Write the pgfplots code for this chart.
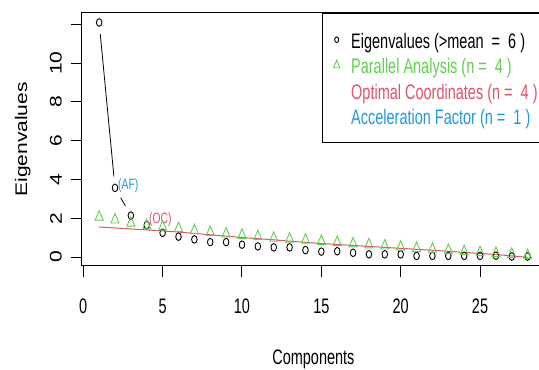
\documentclass[border=0pt]{standalone}
\usepackage{pgfplots}
\pgfplotsset{compat=1.18}
\usepackage{fontspec}
\setmainfont{Liberation Sans}[FakeStretch=0.69]
\newfontfamily\rotfont{Liberation Sans}
\definecolor{rred}{HTML}{DF536B}
\definecolor{rgreen}{HTML}{61D04F}
\definecolor{rblue}{HTML}{2297E6}
\newcommand\bigf{\fontsize{21pt}{25pt}\selectfont}
\newcommand\smallf{\fontsize{15pt}{18pt}\selectfont}
\pgfplotsset{
  eiglegend/.style={legend image code/.code={\path (0pt,0pt) (27.7pt,0pt); \draw[##1, mark size=2.8pt] plot coordinates {(13.7pt,0pt)};}},
  palegend/.style={legend image code/.code={\path (0pt,0pt) (27.7pt,0pt); \draw[##1, mark size=5pt] plot coordinates {(13.7pt,0pt)};}},
}
\pgfplotstableread{
x eig pa oc
1 12.10 2.07 1.55
2 3.57 1.92 1.50
3 2.14 1.76 1.45
4 1.65 1.62 1.40
5 1.25 1.55 1.35
6 1.05 1.48 1.29
7 0.91 1.37 1.22
8 0.77 1.28 1.15
9 0.77 1.20 1.08
10 0.64 1.13 1.01
11 0.55 1.06 0.95
12 0.50 0.98 0.89
13 0.50 0.93 0.82
14 0.36 0.88 0.76
15 0.28 0.81 0.70
16 0.30 0.76 0.65
17 0.22 0.69 0.60
18 0.14 0.64 0.55
19 0.14 0.58 0.50
20 0.14 0.52 0.45
21 0.06 0.46 0.40
22 0.06 0.41 0.35
23 0.06 0.35 0.30
24 0.06 0.29 0.24
25 0.06 0.24 0.19
26 0.07 0.20 0.13
27 0.03 0.15 0.06
28 0.03 0.09 -0.01
}\datatab
\begin{document}
\begin{tikzpicture}
\begin{axis}[
  name=ax,
  scale only axis,
  width=462.8pt, height=252.8pt,
  xmin=-0.08, xmax=29.08, ymin=-0.45, ymax=12.59,
  axis line style={line width=1pt},
  every tick/.style={line width=1pt, black},
  tick align=outside,
  major tick length=11pt,
  xtick={0,5,10,15,20,25},
  ytick={0,2,4,6,8,10,12},
  yticklabels={0,2,4,6,8,10,{}},
  xtick pos=bottom, ytick pos=left,
  /pgf/number format/assume math mode=true,
  xticklabel style={font=\bigf, anchor=base, inner sep=0pt},
  yticklabel style={font=\rotfont\bigf, rotate=90, anchor=south, inner sep=0pt, yscale=0.8},
  xticklabel shift=36.5pt,
  yticklabel shift=9pt,
  xlabel={Components},
  xlabel style={font=\bigf, at={(axis description cs:0.5,-0.3896)}, anchor=base, inner sep=0pt},
  ylabel={Eigenvalues},
  ylabel style={font=\rotfont\bigf, at={(axis description cs:-0.1188,0.5)}, anchor=base, inner sep=0pt, yscale=0.8},
  legend style={at={(rel axis cs:1,1)}, anchor=north east, draw=black, line width=1pt, fill=white,
    inner xsep=0pt, inner ysep=13.5pt, row sep=0pt, column sep=0pt, font=\bigf,
    nodes={inner sep=0pt, text height=21.5pt, text depth=4pt}},
  legend cell align=left,
]
\addplot[only marks, mark=o, black, mark size=3.8pt, mark options={xscale=0.73, line width=0.9pt}, eiglegend]
  table[x=x, y=eig] {\datatab};
\addplot[only marks, mark=triangle, rgreen, mark size=6.3pt, mark options={xscale=0.73, line width=0.9pt}, palegend]
  table[x=x, y=pa] {\datatab};
\addplot[rred, line width=1pt, no marks, forget plot] table[x=x, y=oc] {\datatab};
\addplot[black, line width=0.8pt, no marks, shorten <=11.5pt, shorten >=11.5pt, forget plot] coordinates {(1,12.10) (2,3.57)};
\addplot[black, line width=0.8pt, no marks, shorten <=11.5pt, shorten >=11pt, forget plot] coordinates {(2,3.57) (3,2.14)};
\addlegendentry{\makebox[193.1pt][l]{Eigenvalues (>mean\ \ =\ \ 6 )}}
\addlegendentry{\makebox[193.1pt][l]{\color{rgreen}Parallel Analysis (n =\ \ 4 )}}
\addlegendimage{empty legend}
\addlegendentry{\makebox[193.1pt][l]{\color{rred}Optimal Coordinates (n =\ \ 4 )}}
\addlegendimage{empty legend}
\addlegendentry{\makebox[193.1pt][l]{\color{rblue}Acceleration Factor (n =\ \ 1 )}}
\node[anchor=west, inner sep=0pt, font=\smallf, text=rblue] at (axis cs:2.19,3.71) {(AF)};
\node[anchor=west, inner sep=0pt, font=\smallf, text=rred] at (axis cs:4.14,1.91) {(OC)};
\end{axis}
\pgfresetboundingbox
\path[use as bounding box] ([shift={(-82pt,-103.5pt)}]ax.south west) rectangle ([shift={(457pt,13pt)}]ax.north west);
\end{tikzpicture}
\end{document}
